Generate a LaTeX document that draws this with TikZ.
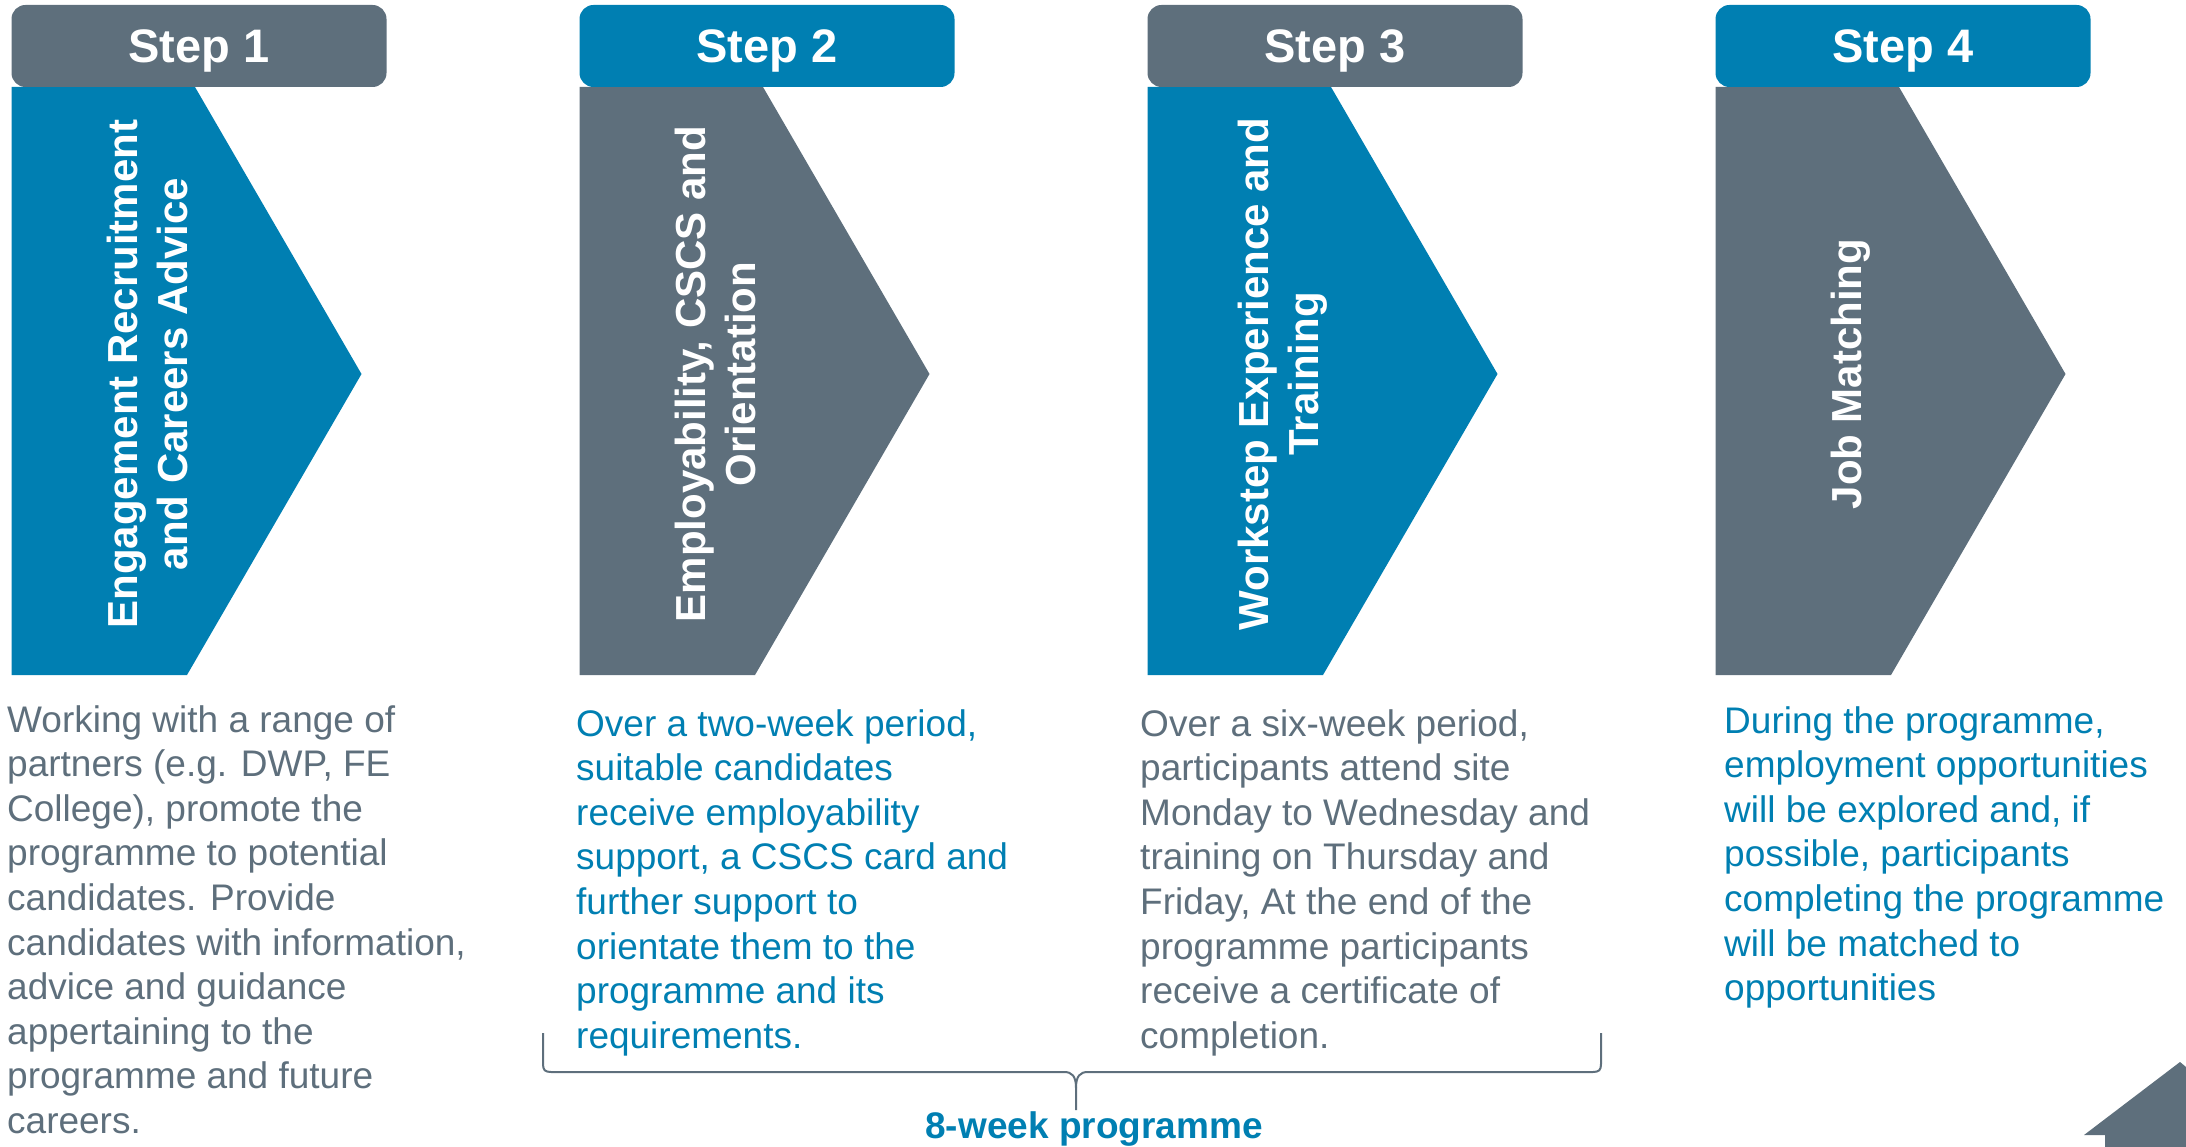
\documentclass[tikz,border=0pt]{standalone}
\usepackage{fontspec}
\setmainfont{Liberation Sans}
\definecolor{stepblue}{RGB}{0,127,178}
\definecolor{stepgrey}{RGB}{94,111,124}
\tikzset{
	stephead/.style={rounded corners=14pt, minimum width=375pt, minimum height=82pt, inner sep=0pt, text depth=0pt, text=white, font=\fontsize{47}{56}\selectfont\bfseries},
	steptitle/.style={rotate=90, align=center, text=white, inner sep=0pt, font=\fontsize{42}{50}\selectfont\bfseries},
	stepinfo/.style={anchor=north west, align=left, inner sep=0pt, font=\fontsize{37}{44.6}\selectfont},
	bracket/.style={draw=stepgrey, line width=2pt},
}
\begin{document}
\begin{tikzpicture}[x=1pt, y=-1pt]
	\useasboundingbox (0,0) rectangle (2186,1147);
	\fill[stepblue] (11.5,87) -- (195,87) -- (361.5,374) -- (187,675) -- (11.5,675) -- cycle;
	\fill[stepgrey] (579.5,87) -- (763,87) -- (929.5,374) -- (755,675) -- (579.5,675) -- cycle;
	\fill[stepblue] (1147.5,87) -- (1331,87) -- (1497.5,374) -- (1323,675) -- (1147.5,675) -- cycle;
	\fill[stepgrey] (1715.5,87) -- (1899,87) -- (2065.5,374) -- (1891,675) -- (1715.5,675) -- cycle;
	\node[stephead, fill=stepgrey] (head1) at (199,46) {Step 1};
	\node[stephead, fill=stepblue] (head2) at (767,46) {Step 2};
	\node[stephead, fill=stepgrey] (head3) at (1335,46) {Step 3};
	\node[stephead, fill=stepblue] (head4) at (1903,46) {Step 4};
	\node[steptitle] (title1) at (147,374) {Engagement Recruitment\\and Careers Advice};
	\node[steptitle] (title2) at (715,374) {Employability, CSCS and\\Orientation};
	\node[steptitle] (title3) at (1283,374) {Workstep Experience and\\Training};
	\node[steptitle] (title4) at (1851,374) {Job Matching};
	\node[stepinfo, text=stepgrey] (info1) at (7,705) {Working with a range of\\partners (e.g. DWP, FE\\College), promote the\\programme to potential\\candidates. Provide\\candidates with information,\\advice and guidance\\appertaining to the\\programme and future\\careers.};
	\node[stepinfo, text=stepblue] (info2) at (576,709) {Over a two-week period,\\suitable candidates\\receive employability\\support, a CSCS card and\\further support to\\orientate them to the\\programme and its\\requirements.};
	\node[stepinfo, text=stepgrey] (info3) at (1140,709) {Over a six-week period,\\participants attend site\\Monday to Wednesday and\\training on Thursday and\\Friday, At the end of the\\programme participants\\receive a certificate of\\completion.};
	\node[stepinfo, text=stepblue] (info4) at (1724,706) {During the programme,\\employment opportunities\\will be explored and, if\\possible, participants\\completing the programme\\will be matched to\\opportunities};
	\draw[bracket] (543,1033) -- (543,1064) .. controls (543,1070) and (545,1072) .. (551,1072) -- (1064,1072) .. controls (1072,1072) and (1076,1076) .. (1076,1088) -- (1076,1110);
	\draw[bracket] (1076,1088) .. controls (1076,1076) and (1080,1072) .. (1088,1072) -- (1593,1072) .. controls (1599,1072) and (1601,1070) .. (1601,1064) -- (1601,1033);
	\node[anchor=base, text=stepblue, inner sep=0pt, font=\fontsize{37}{44}\selectfont\bfseries] (weeks) at (1094,1138) {8-week programme};
	\fill[stepgrey] (2084,1135) -- (2180,1062) -- (2186,1067) -- (2186,1147) -- (2105,1147) -- (2105,1135) -- cycle;
\end{tikzpicture}
\end{document}
